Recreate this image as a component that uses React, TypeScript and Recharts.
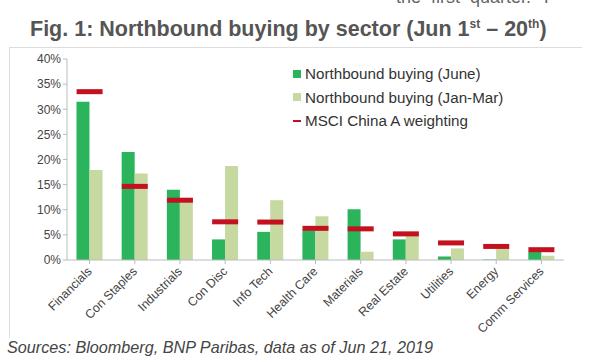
import { ComposedChart, Bar, Scatter, XAxis, YAxis } from 'recharts';

const sectors = ['Financials', 'Con Staples', 'Industrials', 'Con Disc', 'Info Tech', 'Health Care', 'Materials', 'Real Estate', 'Utilities', 'Energy', 'Comm Services'];
const june = [31.5, 21.5, 14.0, 4.1, 5.6, 5.9, 10.1, 4.1, 0.7, 0.1, 1.6];
const janMar = [17.9, 17.2, 11.6, 18.7, 11.9, 8.7, 1.65, 5.6, 2.3, 2.2, 0.85];
const msci = [33.5, 14.65, 11.9, 7.6, 7.55, 6.3, 6.2, 5.2, 3.4, 2.7, 2.05];
const yTicks = [0, 5, 10, 15, 20, 25, 30, 35, 40];

const data = sectors.map((s, i) => ({ sector: s, june: june[i], janMar: janMar[i], msci: msci[i] }));

const DARK = '#2bb45c';
const LIGHT = '#c6d9a1';
const RED = '#c3111f';
const font = '"Liberation Sans", Arial, sans-serif';

const RedMark = (props: any) => {
    const { cx, cy } = props;
    return <rect x={cx - 13} y={cy - 2.5} width={26} height={5} fill={RED} />;
};

const SectorTick = (props: any) => {
    const { x, y, payload } = props;
    return (
        <text
            x={x + 3}
            y={y + 6}
            transform={`rotate(-45, ${x + 3}, ${y + 6})`}
            textAnchor='end'
            fontSize={12.4}
            fill='#444'
            fontFamily={font}
        >
            {payload.value}
        </text>
    );
};

const legendItems = [
    { label: 'Northbound buying (June)', color: DARK, kind: 'box' },
    { label: 'Northbound buying (Jan-Mar)', color: LIGHT, kind: 'box' },
    { label: 'MSCI China A weighting', color: RED, kind: 'line' },
];

const LegendBox = () => (
    <div style={{ position: 'absolute', left: 293, top: 62, fontFamily: font, fontSize: 15.2, color: '#333' }}>
        {legendItems.map((it) => (
            <div key={it.label} style={{ display: 'flex', alignItems: 'center', height: 23.5, whiteSpace: 'nowrap' }}>
                <span
                    style={{
                        display: 'inline-block',
                        width: 8,
                        height: it.kind === 'box' ? 8 : 2,
                        background: it.color,
                        marginRight: 4,
                    }}
                />
                {it.label}
            </div>
        ))}
    </div>
);

export default function App() {
    return (
        <div style={{ position: 'absolute', left: 0, top: 0, width: 600, height: 362, background: '#fff', overflow: 'hidden', fontFamily: font }}>
            <div style={{ position: 'absolute', left: 396, top: -13, fontSize: 18, color: '#666', whiteSpace: 'nowrap' }}>
                the&nbsp; first&nbsp; quarter.&nbsp; T
            </div>
            <div style={{ position: 'absolute', left: 30, top: 17, fontSize: 21.5, fontWeight: 'bold', color: '#555', whiteSpace: 'nowrap' }}>
                Fig. 1: Northbound buying by sector (Jun 1<sup style={{ fontSize: 12 }}>st</sup> – 20<sup style={{ fontSize: 12 }}>th</sup>)
            </div>
            <div style={{ position: 'absolute', left: 9, top: 47, width: 572, height: 290, borderTop: '1.5px solid #ddd', borderLeft: '1.5px solid #ddd' }} />
            <div style={{ position: 'absolute', left: 0, top: 0 }}>
                <ComposedChart
                    width={600}
                    height={362}
                    data={data}
                    margin={{ top: 59, right: 36, bottom: 0, left: 0 }}
                    barGap={0}
                    barCategoryGap='21%'
                >
                    <XAxis
                        dataKey='sector'
                        height={102}
                        interval={0}
                        tick={<SectorTick />}
                        tickSize={4}
                        axisLine={{ stroke: '#bbb' }}
                        tickLine={{ stroke: '#bbb' }}
                    />
                    <YAxis
                        width={67}
                        domain={[0, 40]}
                        ticks={yTicks}
                        tickFormatter={(v: number) => `${v}%`}
                        tickSize={4}
                        axisLine={{ stroke: '#bbb' }}
                        tickLine={{ stroke: '#bbb' }}
                        tick={{ fontSize: 12, fill: '#444', fontFamily: font }}
                    />
                    <Bar dataKey='june' fill={DARK} isAnimationActive={false} />
                    <Bar dataKey='janMar' fill={LIGHT} isAnimationActive={false} />
                    <Scatter dataKey='msci' fill={RED} shape={<RedMark />} isAnimationActive={false} />
                </ComposedChart>
            </div>
            <LegendBox />
            <div style={{ position: 'absolute', left: 7, top: 338, fontSize: 16.2, fontStyle: 'italic', color: '#444', whiteSpace: 'nowrap' }}>
                Sources: Bloomberg, BNP Paribas, data as of Jun 21, 2019
            </div>
        </div>
    );
}
